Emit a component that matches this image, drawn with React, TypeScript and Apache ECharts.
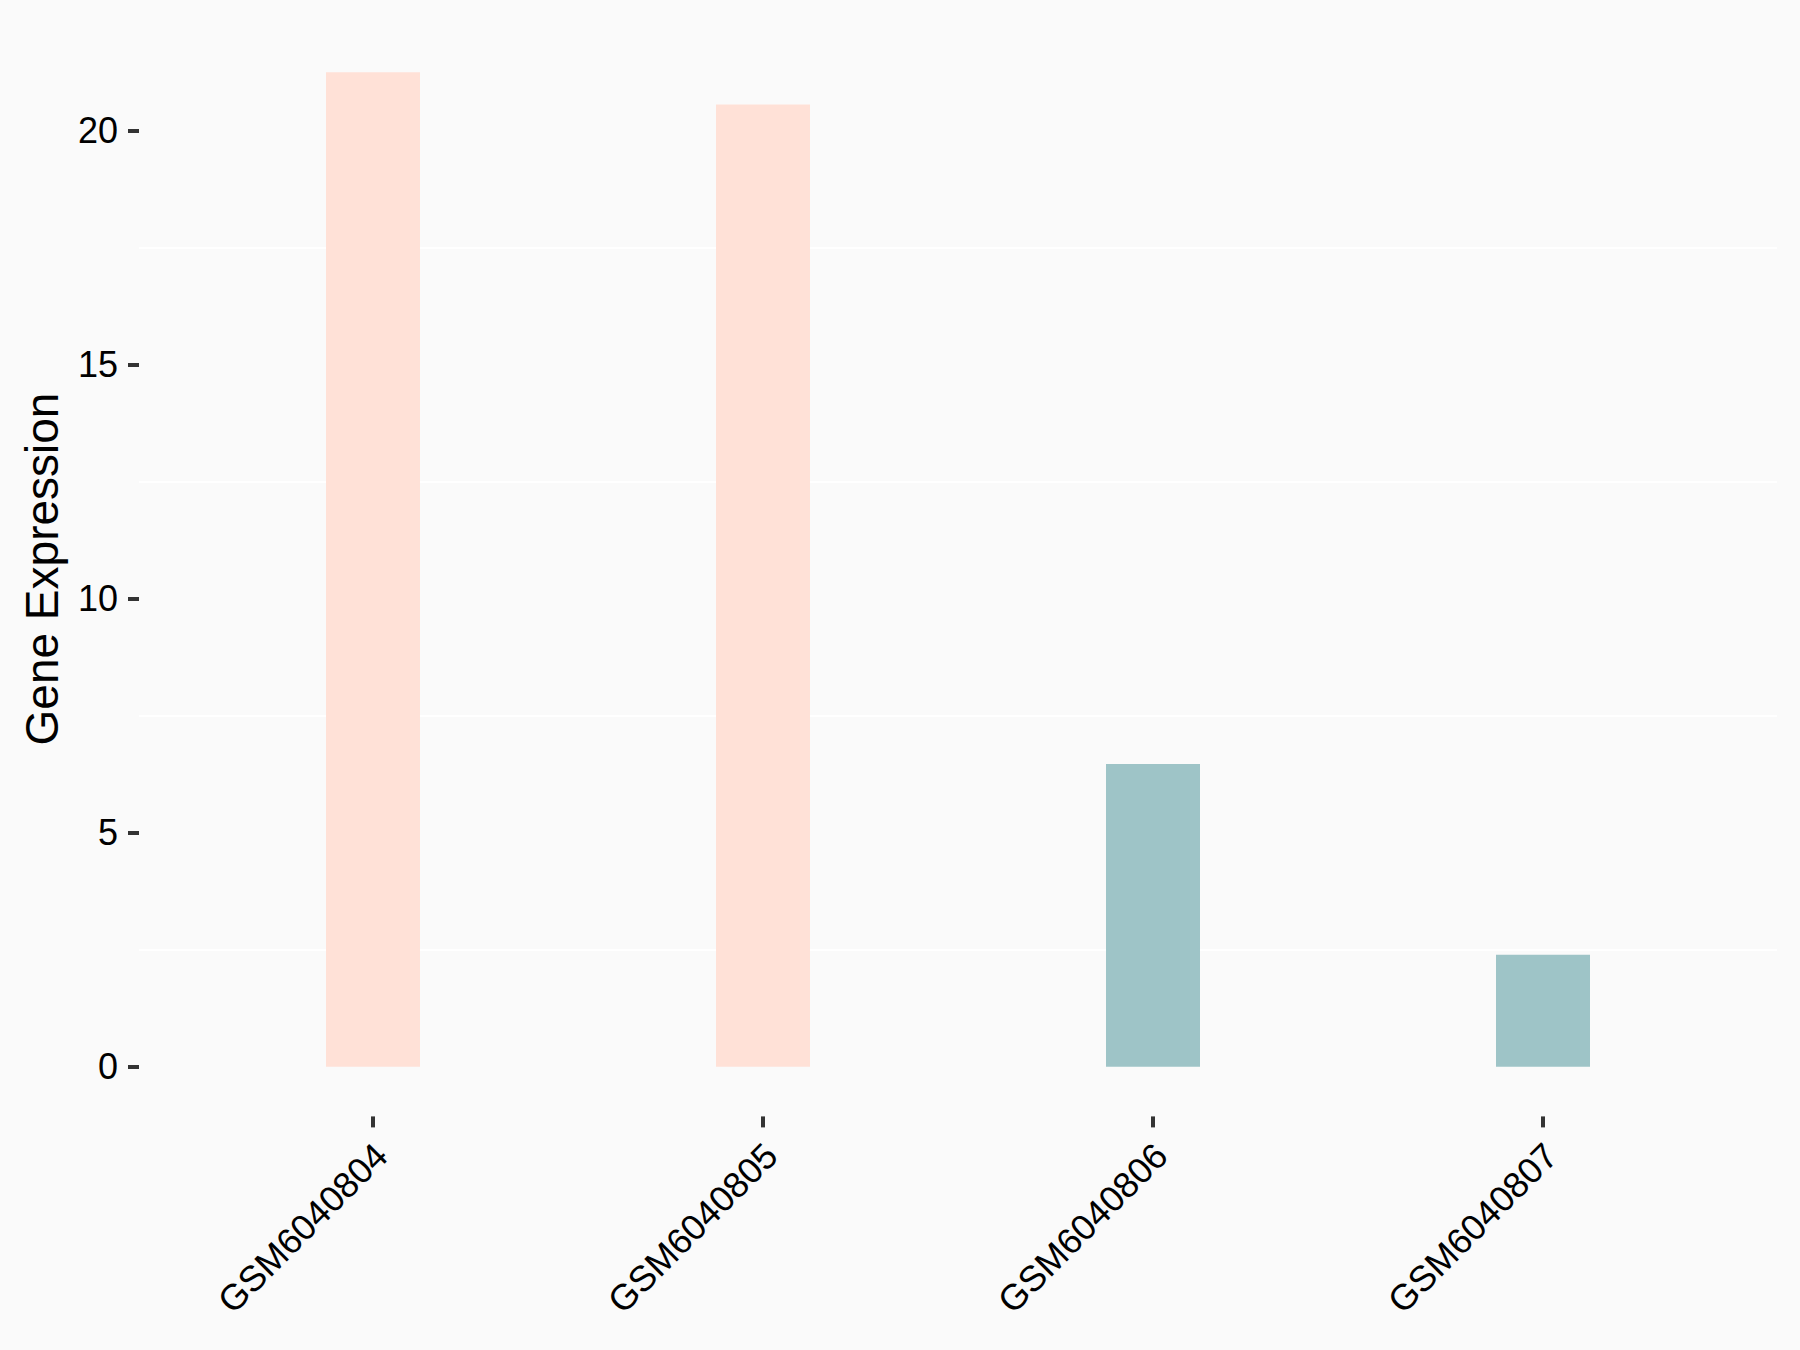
import React, { useEffect, useRef } from "react";
import * as echarts from "echarts";

const categories = ["GSM6040804", "GSM6040805", "GSM6040806", "GSM6040807"];
const values = [21.25, 20.56, 6.47, 2.39];
const groups = ["high", "high", "low", "low"];
const groupColors: Record<string, string> = { high: "#FFE1D7", low: "#9EC4C7" };
const yTicks = [0, 5, 10, 15, 20];
const yGrid = [2.5, 7.5, 12.5, 17.5];
const yMin = -1.0625;
const yMax = 22.3125;

const FONT = "'Liberation Sans', Arial, sans-serif";

export default function App() {
  const ref = useRef<HTMLDivElement>(null);
  useEffect(() => {
    document.body.style.margin = "0";
    const chart = echarts.init(ref.current!, null, { renderer: "svg" });
    const xIdx = categories.map((_, i) => i);
    chart.setOption({
      animation: false,
      backgroundColor: "#FAFAFA",
      grid: { left: 139, right: 23, top: 22.5, bottom: 233.6, containLabel: false },
      xAxis: {
        type: "value",
        min: -0.6,
        max: 3.6,
        splitLine: { show: false },
        axisLine: { show: false, onZero: false },
        axisTick: {
          show: true,
          customValues: xIdx,
          length: 11,
          lineStyle: { color: "#333333", width: 4 },
        },
        axisLabel: {
          customValues: xIdx.map((i) => i + 0.021),
          formatter: (v: number) => categories[Math.round(v)] ?? "",
          rotate: 45,
          margin: 33,
          color: "#000000",
          fontSize: 36,
          fontFamily: FONT,
          hideOverlap: false,
        },
      },
      yAxis: {
        type: "value",
        min: yMin,
        max: yMax,
        splitLine: { show: false },
        axisLine: { show: false, onZero: false },
        axisTick: {
          show: true,
          customValues: yTicks,
          length: 11,
          lineStyle: { color: "#333333", width: 4 },
        },
        axisLabel: {
          customValues: yTicks,
          margin: 21,
          color: "#000000",
          fontSize: 36,
          fontFamily: FONT,
        },
      },
      graphic: [
        {
          type: "text",
          x: 42,
          y: 569,
          rotation: Math.PI / 2,
          style: {
            text: "Gene Expression",
            font: `46px ${FONT}`,
            fill: "#000000",
            textAlign: "center",
            textVerticalAlign: "middle",
          },
        },
      ],
      series: [
        {
          type: "line",
          data: [],
          silent: true,
          z: 1,
          markLine: {
            silent: true,
            z: 1,
            symbol: "none",
            label: { show: false },
            lineStyle: { color: "#FFFFFF", width: 2, type: "solid" },
            data: yGrid.map((v) => ({ yAxis: v })),
          },
        },
        {
          type: "bar",
          z: 2,
          barWidth: 94,
          data: values.map((v, i) => ({
            value: [i, v],
            itemStyle: { color: groupColors[groups[i]] },
          })),
        },
      ],
    });
    return () => chart.dispose();
  }, []);
  return <div ref={ref} style={{ width: 1800, height: 1350 }} />;
}
